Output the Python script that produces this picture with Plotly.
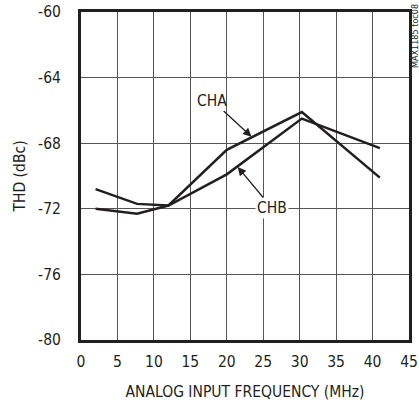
import plotly.graph_objects as go

freq = [2, 7.7, 12, 20, 30.3, 41]
cha = [-70.8, -71.7, -71.8, -68.4, -66.1, -70.1]
chb = [-72.0, -72.3, -71.8, -69.9, -66.5, -68.3]
x_ticks = [0, 5, 10, 15, 20, 25, 30, 35, 40, 45]
y_ticks = [-80, -76, -72, -68, -64, -60]

FONT = "Liberation Sans Narrow, DejaVu Sans Condensed, Arial Narrow, sans-serif"
INK = "#231f20"
FS = 15.5

fig = go.Figure()
fig.add_trace(go.Scatter(x=freq, y=cha, mode="lines", line=dict(color=INK, width=2.5), name="CHA"))
fig.add_trace(go.Scatter(x=freq, y=chb, mode="lines", line=dict(color=INK, width=2.5), name="CHB"))

fig.add_annotation(x=23.4, y=-67.6, ax=18.0, ay=-65.4, axref="x", ayref="y",
                   text="CHA", showarrow=True, arrowhead=2, arrowsize=1.3, arrowwidth=1.3,
                   arrowcolor=INK, font=dict(family=FONT, size=FS, color=INK),
                   xanchor="center", yanchor="middle", standoff=0)
fig.add_annotation(x=21.5, y=-69.45, ax=26.2, ay=-71.95, axref="x", ayref="y",
                   text="CHB", showarrow=True, arrowhead=2, arrowsize=1.3, arrowwidth=1.3,
                   arrowcolor=INK, font=dict(family=FONT, size=FS, color=INK),
                   bgcolor="white", borderpad=1, xanchor="center", yanchor="middle", standoff=0)
fig.add_annotation(x=1.0, y=1.0, xref="paper", yref="paper", xshift=6, yshift=10,
                   text="MAX1185 toc08", showarrow=False, textangle=-90,
                   font=dict(family=FONT, size=9, color=INK), xanchor="center", yanchor="top")

fig.update_xaxes(range=[0, 45], tickvals=x_ticks, ticktext=[str(v) for v in x_ticks],
                 showgrid=True, gridcolor="#555555", gridwidth=1, zeroline=False,
                 showline=True, linecolor=INK, linewidth=3, mirror=True, ticks="",
                 automargin=False,
                 tickfont=dict(family=FONT, size=FS, color=INK), ticklabelstandoff=5,
                 title=dict(text="ANALOG INPUT FREQUENCY (MHz)", font=dict(family=FONT, size=FS, color=INK), standoff=17))
fig.update_yaxes(range=[-80, -60], tickvals=y_ticks, ticktext=[str(v) for v in y_ticks],
                 showgrid=True, gridcolor="#555555", gridwidth=1, zeroline=False,
                 showline=True, linecolor=INK, linewidth=3, mirror=True, ticks="",
                 automargin=False,
                 tickfont=dict(family=FONT, size=FS, color=INK), ticklabelstandoff=14,
                 title=dict(text="THD (dBc)", font=dict(family=FONT, size=FS, color=INK), standoff=9))

fig.update_layout(width=419, height=402, margin=dict(l=81, r=10, t=12, b=62),
                  plot_bgcolor="white", paper_bgcolor="white", showlegend=False)
fig.write_html("out.html")
